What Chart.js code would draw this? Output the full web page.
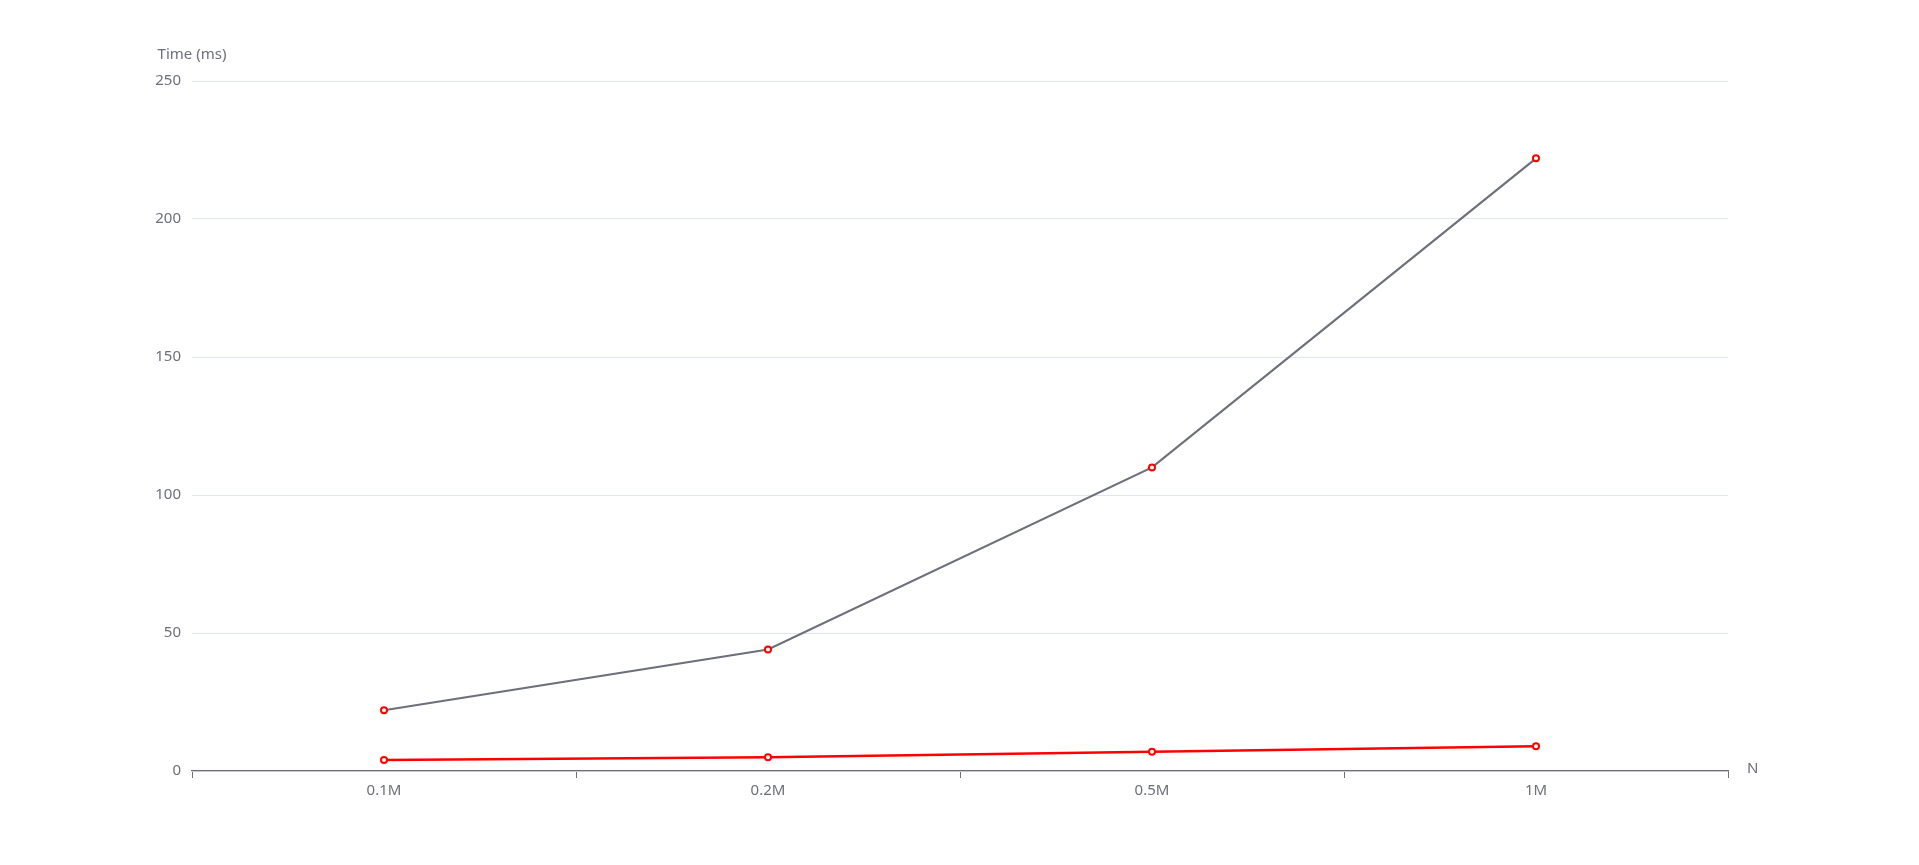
<!DOCTYPE html>
<html><head><meta charset="utf-8">
<script src="https://cdn.jsdelivr.net/npm/chart.js@4/dist/chart.umd.min.js"></script>
<style>html,body{margin:0;padding:0;background:#fff}#w{width:1919px;height:865px}</style>
</head><body><div id="w"><canvas id="c"></canvas></div>
<script>
const categories = ['0.1M','0.2M','0.5M','1M'];
const seriesA = [22, 44, 110, 222];
const seriesB = [4, 5, 7, 9];
const yTicks = [0, 50, 100, 150, 200, 250];
const FONT = {family: '"Microsoft YaHei", "Noto Sans", sans-serif', size: 15};
const labels = {
  id: 'labels',
  afterDraw(chart) {
    const {ctx, chartArea: a} = chart;
    ctx.save();
    ctx.fillStyle = '#6e7079';
    ctx.font = '15px ' + FONT.family;
    ctx.textAlign = 'center'; ctx.textBaseline = 'bottom';
    ctx.fillText('Time (ms)', 192, a.top - 19);
    ctx.textAlign = 'left'; ctx.textBaseline = 'middle';
    ctx.fillText('N', a.right + 19, a.bottom - 2);
    ctx.restore();
  }
};
new Chart(document.getElementById('c'), {
  type: 'line',
  data: {labels: categories, datasets: [
    {data: seriesA, borderColor: '#6e7079', borderWidth: 2.2, pointBackgroundColor: '#fff', pointBorderColor: '#ff0000', pointBorderWidth: 2, pointRadius: 3, tension: 0},
    {data: seriesB, borderColor: '#ff0000', borderWidth: 2.5, pointBackgroundColor: '#fff', pointBorderColor: '#ff0000', pointBorderWidth: 2, pointRadius: 3, tension: 0}
  ]},
  options: {
    responsive: true, maintainAspectRatio: false, animation: false,
    layout: {padding: {top: 81, right: 191, left: 0, bottom: 0}},
    plugins: {legend: {display: false}, tooltip: {enabled: false}},
    scales: {
      x: {
        offset: true,
        grid: {display: true, offset: true, drawOnChartArea: false, color: '#6e7079', tickLength: 7},
        border: {color: '#6e7079', width: 1.3},
        ticks: {color: '#6e7079', font: FONT, padding: 4},
        afterFit(s) { s.height = 94; }
      },
      y: {
        min: 0, max: 250,
        afterBuildTicks(s) { s.ticks = yTicks.map(v => ({value: v})); },
        grid: {color: '#e0e6f1', drawTicks: false},
        border: {display: false},
        ticks: {color: '#6e7079', font: FONT, padding: 11},
        afterFit(s) { s.width = 192; }
      }
    }
  },
  plugins: [labels]
});
</script></body></html>
